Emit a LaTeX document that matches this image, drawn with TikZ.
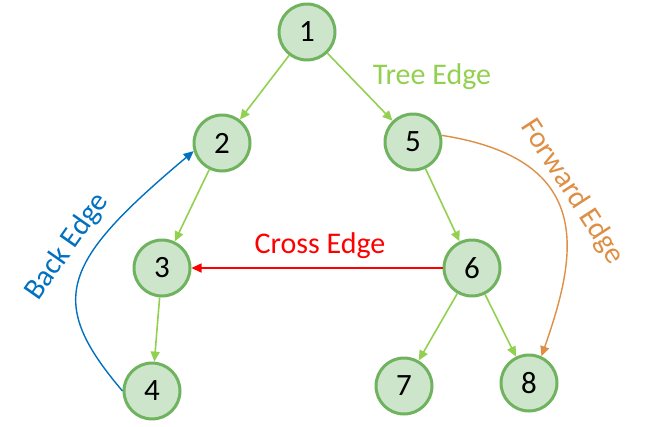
\documentclass[tikz,border=0pt]{standalone}
\usepackage{fontspec}
\setmainfont{Carlito}
\usetikzlibrary{arrows.meta}
\definecolor{nodefill}{HTML}{CDE5CB}
\definecolor{nodeline}{HTML}{6FB35F}
\definecolor{treegreen}{HTML}{92D050}
\definecolor{backblue}{HTML}{0070C0}
\definecolor{fwdorange}{HTML}{DE8F45}
\tikzset{
  vert/.style={circle,draw=nodeline,fill=nodefill,line width=3pt,minimum size=56pt,inner sep=0pt,font=\fontsize{31}{31}\selectfont},
  tip/.style={-{Triangle[length=10pt,width=9pt]}},
  tree/.style={tip,draw=treegreen,line width=1.6pt},
  lab/.style={font=\fontsize{30}{30}\selectfont,inner sep=0pt}
}
\begin{document}
\begin{tikzpicture}[x=1pt,y=-1pt]
\useasboundingbox (0,0) rectangle (650,426);
\node[vert] (n1) at (307,32) {1};
\node[vert] (n2) at (222,143) {2};
\node[vert] (n5) at (413,142) {5};
\node[vert] (n3) at (162,268) {3};
\node[vert] (n6) at (472,268) {6};
\node[vert] (n4) at (152,391) {4};
\node[vert] (n7) at (404,386) {7};
\node[vert] (n8) at (529,383) {8};
\draw[tree] (n1) -- (n2);
\draw[tree] (n1) -- (n5);
\draw[tree] (n2) -- (n3);
\draw[tree] (n3) -- (n4);
\draw[tree] (n5) -- (n6);
\draw[tree] (n6) -- (n7);
\draw[tree] (n6) -- (n8);
\draw[tip,draw=red,fill=red,line width=1.6pt] (n6) -- (n3);
\draw[tip,draw=backblue,line width=1.4pt] (n4.west) .. controls (45,300) and (62,262) .. (n2.196);
\draw[tip,draw=fwdorange,line width=1.4pt] (n5.13) .. controls (600,160) and (575,260) .. (n8.65);
\node[lab,text=treegreen] (tl) at (432,77) {Tree Edge};
\node[lab,text=red] (cl) at (320,246) {Cross Edge};
\node[lab,text=backblue,rotate=55] (bl) at (67,247) {Back Edge};
\node[lab,text=fwdorange,rotate=-57] (fl) at (572,192) {Forward Edge};
\end{tikzpicture}
\end{document}
